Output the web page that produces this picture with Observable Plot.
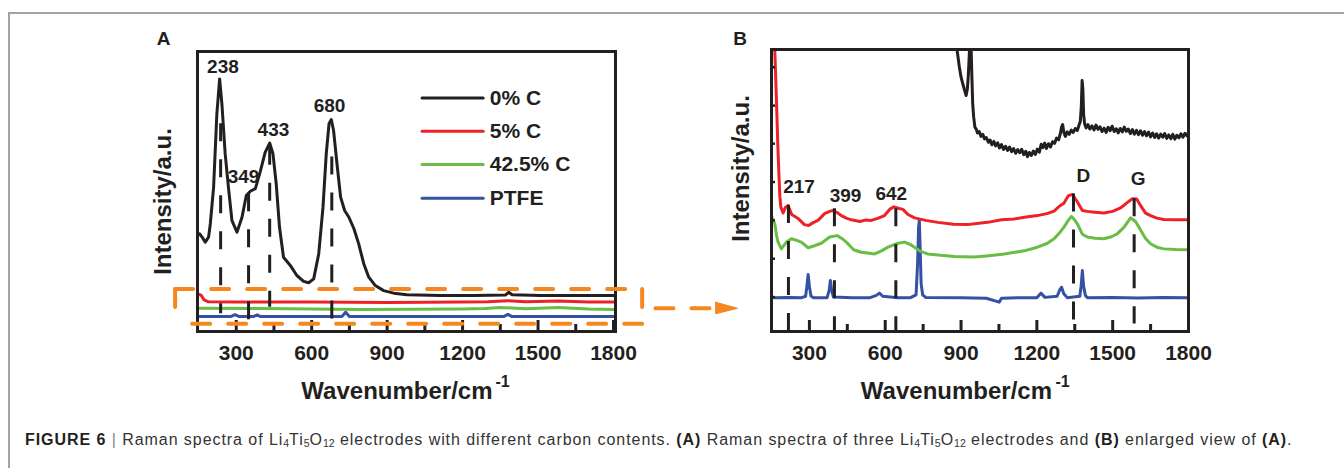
<!DOCTYPE html>
<html><head><meta charset="utf-8">
<script src="https://cdn.jsdelivr.net/npm/d3@7"></script>
<script src="https://cdn.jsdelivr.net/npm/@observablehq/plot@0.6"></script>
<style>
body{margin:0;background:#fff;}
#wrap{position:relative;width:1344px;height:468px;overflow:hidden;font-family:"Liberation Sans",Arial,sans-serif;}
#border{position:absolute;left:8px;top:12px;width:1340px;height:470px;border-top:2px solid #a3a3a3;border-left:2px solid #a3a3a3;}
#pa,#pb{position:absolute;}
#pa{left:140px;top:20px;}
#pb{left:720px;top:20px;}
#caption{position:absolute;left:25px;top:431px;font-size:16px;letter-spacing:0.94px;color:#333;white-space:nowrap;}
#caption b{color:#231f20;}
#caption sub{font-size:10.5px;vertical-align:-2px;line-height:0;letter-spacing:0;}
#caption .bar{color:#888;}
</style></head>
<body><div id="wrap"><div id="border"></div><div id="pb"></div><div id="pa"></div>
<div id="caption"><b>FIGURE 6</b> <span class="bar">|</span> Raman spectra of Li<sub>4</sub>Ti<sub>5</sub>O<sub>12</sub> electrodes with different carbon contents. <b>(A)</b> Raman spectra of three Li<sub>4</sub>Ti<sub>5</sub>O<sub>12</sub> electrodes and <b>(B)</b> enlarged view of <b>(A)</b>.</div>
</div>
<script>
// ---------- data ----------
const seriesNames = ["0% C", "5% C", "42.5% C", "PTFE"];
const seriesColors = ["#231f20", "#ec2227", "#69bd45", "#3451a3"];
const xTicks = [300, 600, 900, 1200, 1500, 1800];
const xMinorTicks = [450, 750, 1050, 1350, 1650];
const bYTicks = [12.2, 25.8, 39.4, 53, 66.6, 80.1, 93.7];

// Panel A spectra [wavenumber, intensity a.u.]
const a0C = [[154,34.9],[165,33.6],[177,31.9],[190,33.7],[197,38.5],[210,51.5],[223,77.7],[234,90.2],[243,81.3],[256,63.5],[269,51.5],[283,39.6],[303,35.5],[323,40.8],[340,48.6],[356,50.1],[376,51.0],[395,56.9],[415,64.0],[433,67.3],[446,63.5],[459,52.7],[472,37.3],[488,26.5],[515,23.6],[541,20.0],[568,17.9],[588,17.4],[608,18.8],[628,27.7],[645,44.4],[658,63.5],[669,74.2],[678,75.7],[687,71.8],[702,58.7],[715,48.0],[731,43.2],[748,40.8],[768,36.7],[787,31.3],[807,24.2],[827,19.4],[853,16.4],[886,14.6],[926,13.7],[979,13.1],[1112,12.9],[1244,12.9],[1370,13.0],[1383,14.0],[1397,13.1],[1510,12.9],[1643,12.9],[1800,12.9]];
const a5C = [[150,13.3],[160,13.0],[172,11.3],[190,10.6],[300,10.5],[600,10.5],[900,10.4],[1200,10.5],[1300,10.6],[1380,11.0],[1450,10.6],[1580,10.9],[1700,10.5],[1800,10.5]];
const a425C = [[150,8.3],[400,8.2],[800,7.9],[1200,8.0],[1290,8.2],[1350,8.6],[1450,8.1],[1580,8.6],[1700,8.0],[1800,7.9]];
const aPTFE = [[150,5.4],[280,5.4],[295,6.0],[310,5.4],[370,5.4],[383,5.9],[395,5.4],[720,5.4],[735,6.9],[750,5.4],[1365,5.4],[1380,6.1],[1395,5.4],[1800,5.4]];
const aPeaks = [238, 349, 433, 680];
const aPeakTop = [74.2, 49.2, 65.8, 62.3];
const aPeakBottom = [6.3, 3.3, 8.7, 4.5];

// Panel B spectra (enlarged)
const b0C = [[860,112],[884,100],[893,94],[900,90.2],[908,87.5],[914,85.5],[920,83.7],[925,86],[929,91],[933,99],[937,108],[940,100],[943,90],[946,81],[950,76],[955,72.4],[960,71.8],[965,70.4],[972,70.9],[979,69.2],[986,69.9],[993,68.3],[1000,68.8],[1008,67.1],[1015,67.9],[1022,66.2],[1030,67.4],[1037,65.8],[1045,66.9],[1052,65.1],[1060,66.3],[1068,64.6],[1076,65.7],[1084,64.2],[1092,65.4],[1100,63.8],[1108,64.9],[1116,63.2],[1124,64.5],[1132,63.4],[1140,64.6],[1148,62.7],[1156,63.9],[1163,62.0],[1170,63.5],[1178,62.4],[1186,64.0],[1194,62.8],[1202,64.7],[1210,63.6],[1217,66.4],[1224,65.2],[1231,66.8],[1238,64.9],[1246,66.6],[1254,65.4],[1262,67.3],[1270,66.7],[1278,68.6],[1286,68.0],[1293,70.2],[1298,72.6],[1302,73.4],[1307,70.5],[1313,69.2],[1320,70.8],[1328,69.9],[1336,71.4],[1344,70.6],[1352,72.0],[1360,71.3],[1367,73.2],[1372,74.5],[1376,80],[1379,89],[1382,86],[1385,77],[1389,73.6],[1395,72.2],[1402,73.4],[1410,71.8],[1418,72.9],[1426,71.5],[1434,73.2],[1442,71.7],[1450,72.6],[1458,70.9],[1466,72.1],[1474,70.6],[1482,72.4],[1490,71.2],[1498,72.8],[1506,70.9],[1514,71.9],[1522,70.4],[1530,72.0],[1538,70.8],[1546,72.5],[1554,71.0],[1562,71.8],[1570,70.2],[1578,71.6],[1586,70.0],[1594,71.3],[1602,69.8],[1610,71.2],[1618,69.6],[1626,70.9],[1634,69.4],[1642,70.7],[1650,69.0],[1658,70.4],[1666,68.8],[1674,70.1],[1682,68.6],[1690,70.0],[1698,68.9],[1706,70.2],[1714,68.5],[1722,69.7],[1730,68.4],[1738,69.9],[1746,68.2],[1754,69.6],[1762,68.7],[1770,70.1],[1778,68.9],[1786,70.3],[1794,69.4],[1800,70.6]];
const b5C = [[155,115],[163,100],[170,80.9],[175,66],[179,56.6],[183,48],[187,44.1],[196,42.0],[205,44.0],[216,44.7],[230,41.5],[255,40.1],[280,37.9],[297,37.6],[315,38.6],[334,39.4],[360,41.8],[380,42.6],[393,42.9],[410,42.2],[426,41.1],[446,40.2],[466,39.6],[500,39.0],[520,39.5],[545,39.4],[570,40.1],[597,41.1],[620,43.5],[634,44.2],[655,43.6],[670,43.3],[690,41.5],[716,40.3],[760,39.4],[808,38.7],[870,38.0],[926,37.9],[970,38.4],[1005,38.7],[1060,39.6],[1110,39.9],[1150,40.5],[1202,41.1],[1240,41.8],[1268,42.7],[1290,44.5],[1307,45.5],[1325,48.2],[1341,48.6],[1360,46.0],[1380,42.9],[1400,42.6],[1430,42.3],[1465,42.0],[1500,42.6],[1531,43.8],[1555,45.5],[1578,47.1],[1595,47.0],[1610,44.7],[1630,42.0],[1650,41.1],[1675,40.2],[1702,39.7],[1750,39.6],[1800,39.6]];
const b425C = [[152,40.5],[163,38.2],[170,34.0],[176,31.7],[189,29.3],[209,31.7],[229,32.9],[250,32.3],[268,31.7],[295,29.7],[320,30.4],[347,31.3],[380,33.5],[410,34.0],[430,32.9],[446,31.7],[475,29.0],[505,28.1],[530,27.8],[558,27.5],[585,28.6],[611,29.9],[650,31.3],[677,31.7],[700,30.8],[716,29.9],[740,28.4],[768,27.5],[820,27.0],[874,26.6],[953,26.4],[1010,26.9],[1071,27.5],[1150,28.6],[1202,29.9],[1240,31.2],[1268,32.9],[1290,35.0],[1307,37.0],[1325,39.5],[1337,40.8],[1350,39.5],[1360,38.2],[1380,34.5],[1400,33.5],[1430,33.1],[1465,32.9],[1495,33.6],[1518,34.6],[1545,37.0],[1571,40.3],[1590,39.0],[1604,37.0],[1630,33.0],[1650,31.1],[1675,29.9],[1702,29.3],[1750,29.1],[1800,29.0]];
const bPTFE = [[150,12.2],[163,12.0],[220,12.1],[270,12.0],[285,12.5],[290,16],[295,20.2],[300,16],[306,12.6],[315,12.0],[370,12.0],[378,14.5],[383,18.1],[388,14.5],[395,12.2],[470,12.0],[540,12.0],[565,12.8],[577,13.6],[590,12.5],[650,12.0],[700,12.0],[722,13],[728,24],[732,37],[735,39.4],[738,30],[742,17],[748,13],[760,12.1],[900,12.0],[1000,11.8],[1051,10.4],[1060,11.8],[1150,12.0],[1200,12.0],[1216,13.6],[1232,12.1],[1280,12.5],[1292,15.0],[1298,15.7],[1306,13.5],[1320,12.0],[1370,12.5],[1375,16],[1380,21.6],[1385,16],[1392,12.8],[1400,12.0],[1500,12.1],[1600,11.9],[1700,12.1],[1800,12.0]];
const bPeaks = [217, 399, 642, 1345, 1585];
const bPeakNames = ["217", "399", "642", "D", "G"];
const bPeakTop = [44.7, 43.5, 43.5, 48.8, 47.1];
const bPeakBottom = [0, 0, 0, 0, 2.7];

// ---------- layout constants ----------
const FONT = "Liberation Sans, Arial, Helvetica, sans-serif";
const ORANGE = "#f5871f";
const DASH = "18,18";
const aLabelAt = [[247,94.4],[329,55.1],[448,72.0],[671,80.4]];
const bLabelAt = [[259,51.2],[443,48.2],[624,48.8],[1384,55.3],[1601,54.1]];
const legendRows = [83.4, 71.5, 59.6, 47.6];

const ink = seriesColors[0];
const T = {textAnchor: "middle", lineAnchor: "middle", fontWeight: "bold", fill: ink};

function axisMarks(frameH) {
  return [
    Plot.ruleX(xTicks, {x: d => d, insetTop: frameH - 11, stroke: ink, strokeWidth: 3}),
    Plot.ruleX(xMinorTicks, {x: d => d, insetTop: frameH - 7, stroke: ink, strokeWidth: 3}),
    Plot.text(xTicks, {...T, x: d => d, frameAnchor: "bottom", dy: 22, text: d => String(d), fontSize: 21})
  ];
}

// ---------- Panel A ----------
const dashedA = aPeaks.map((p, i) => ({x: p, y1: aPeakTop[i], y2: aPeakBottom[i]}));
const specsA = [a0C, a5C, a425C, aPTFE];
const rectA = [
  {k: "t", p: [[57,15.2],[1914,15.2]]},
  {k: "r", p: [[1914,15.2],[1914,2.75]]},
  {k: "b", p: [[1914,2.75],[57,2.75]]},
  {k: "l", p: [[57,15.2],[57,2.75]]}
].flatMap(s => s.p.map(q => ({k: s.k, x: q[0], y: q[1]})));

const plotA = Plot.plot({
  width: 610, height: 395,
  marginLeft: 57, marginRight: 135, marginTop: 31, marginBottom: 84,
  x: {domain: [146, 1808], axis: null},
  y: {domain: [0, 100], axis: null},
  style: {background: "transparent", fontFamily: FONT, overflow: "visible"},
  marks: [
    ...specsA.slice().reverse().map((s, j) => Plot.line(s, {x: d => d[0], y: d => d[1], stroke: seriesColors[3 - j], strokeWidth: 3, clip: true, strokeLinejoin: "round"})),
    Plot.ruleX(dashedA, {x: "x", y1: "y1", y2: "y2", stroke: ink, strokeWidth: 3, strokeDasharray: DASH}),
    Plot.text(aPeaks, {...T, x: (d, i) => aLabelAt[i][0], y: (d, i) => aLabelAt[i][1], text: d => String(d), fontSize: 19}),
    // legend
    ...seriesNames.map((n, i) => Plot.line([[1039, legendRows[i]], [1282, legendRows[i]]], {x: d => d[0], y: d => d[1], stroke: seriesColors[i], strokeWidth: 3})),
    Plot.text(seriesNames, {...T, x: 1308, y: (d, i) => legendRows[i], text: d => d, textAnchor: "start", fontSize: 21}),
    ...axisMarks(280),
    Plot.frame({stroke: ink, strokeWidth: 3}),
    // axis titles
    Plot.text(["Wavenumber/cm"], {...T, frameAnchor: "bottom", dx: 86, dy: 59.5, text: d => d, textAnchor: "end", fontSize: 24}),
    Plot.text(["-1"], {...T, frameAnchor: "bottom", dx: 89, dy: 50, text: d => d, textAnchor: "start", fontSize: 16}),
    Plot.text(["Intensity/a.u."], {...T, frameAnchor: "left", dx: -34.5, dy: 10, rotate: -90, text: d => d, fontSize: 24}),
    Plot.text(["A"], {...T, frameAnchor: "top-left", dx: -34, dy: -12.5, text: d => d, fontSize: 19}),
    // orange zoom box and arrow
    Plot.line(rectA, {x: "x", y: "y", z: "k", stroke: ORANGE, strokeWidth: 4, strokeDasharray: DASH, clip: false}),
    Plot.line([[1967, 8.3], [2210, 8.3]], {x: d => d[0], y: d => d[1], stroke: ORANGE, strokeWidth: 4, strokeDasharray: DASH}),
    Plot.line([[2206, 10.45], [2293, 8.3], [2206, 6.3], [2206, 10.45]], {x: d => d[0], y: d => d[1], stroke: ORANGE, fill: ORANGE, strokeWidth: 1})
  ]
});
document.getElementById("pa").appendChild(plotA);

// ---------- Panel B ----------
const dashedB = bPeaks.map((p, i) => ({x: p, y1: bPeakTop[i], y2: bPeakBottom[i]}));
const specsB = [b0C, b5C, b425C, bPTFE];
const plotB = Plot.plot({
  width: 520, height: 395,
  marginLeft: 51, marginRight: 52, marginTop: 29, marginBottom: 84,
  x: {domain: [150, 1800], axis: null},
  y: {domain: [0, 100], axis: null},
  style: {background: "transparent", fontFamily: FONT, overflow: "visible"},
  marks: [
    ...specsB.slice().reverse().map((s, j) => Plot.line(s, {x: d => d[0], y: d => d[1], stroke: seriesColors[3 - j], strokeWidth: 3, clip: true, strokeLinejoin: "round"})),
    Plot.ruleX(dashedB, {x: "x", y1: "y1", y2: "y2", stroke: ink, strokeWidth: 3, strokeDasharray: DASH}),
    Plot.text(bPeakNames, {...T, x: (d, i) => bLabelAt[i][0], y: (d, i) => bLabelAt[i][1], text: d => d, fontSize: 19}),
    Plot.ruleY(bYTicks, {y: d => d, insetRight: 418 - 5, stroke: ink, strokeWidth: 2.5}),
    ...axisMarks(282),
    Plot.frame({stroke: ink, strokeWidth: 3}),
    Plot.text(["Wavenumber/cm"], {...T, frameAnchor: "bottom", dx: 72, dy: 59.5, text: d => d, textAnchor: "end", fontSize: 24}),
    Plot.text(["-1"], {...T, frameAnchor: "bottom", dx: 75.5, dy: 50, text: d => d, textAnchor: "start", fontSize: 16}),
    Plot.text(["Intensity/a.u."], {...T, frameAnchor: "left", dx: -30, dy: -22, rotate: -90, text: d => d, fontSize: 24}),
    Plot.text(["B"], {...T, frameAnchor: "top-left", dx: -31.5, dy: -11, text: d => d, fontSize: 19})
  ]
});
document.getElementById("pb").appendChild(plotB);
</script>
</body></html>
